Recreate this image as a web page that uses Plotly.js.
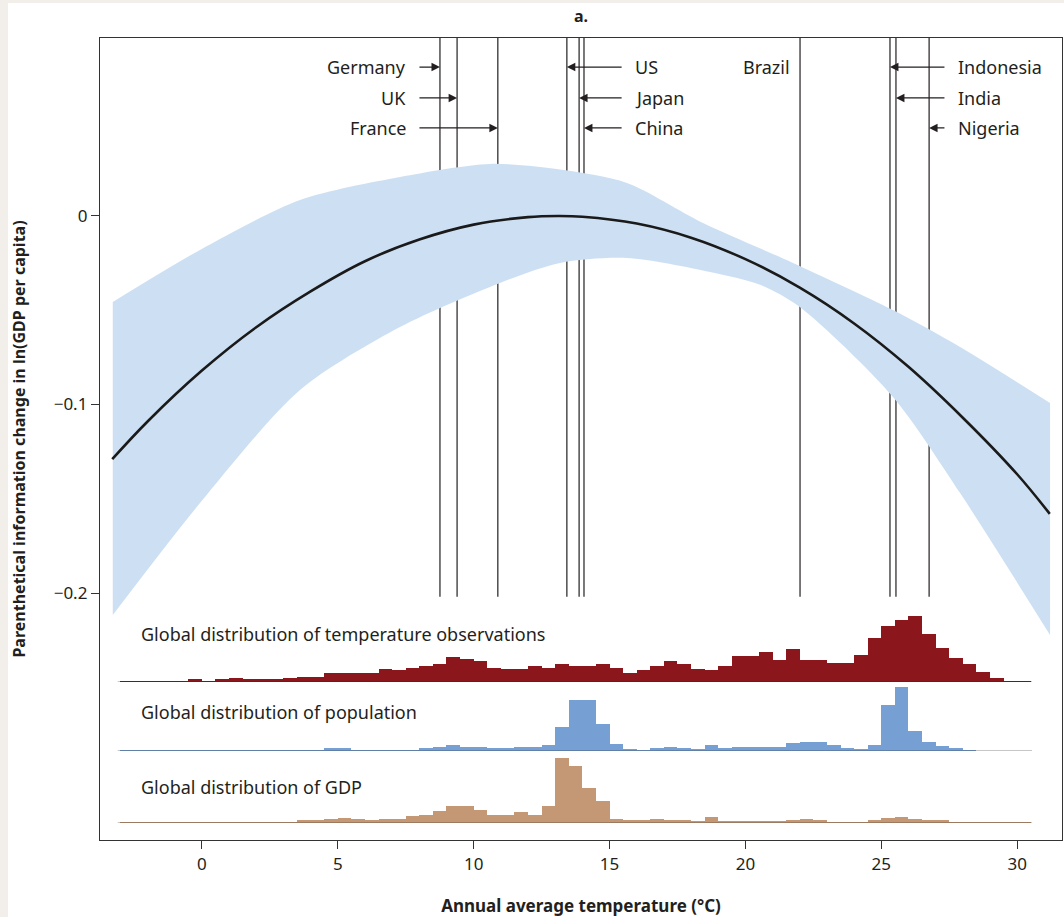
<!DOCTYPE html>
<html>
<head>
<meta charset="utf-8">
<script src="https://cdn.plot.ly/plotly-3.0.1.min.js"></script>
<style>html,body{margin:0;padding:0;background:#fff;}#chart{width:1064px;height:917px;}</style>
</head>
<body>
<div id="chart"></div>
<script>
// ---- Response curve ----
const curveTemp = [-3.3, -2, 0, 2, 4, 6, 8, 10, 12, 13.1, 14, 16, 18, 20, 22, 24, 26, 28, 30, 31.2];
const curveVal  = [-0.129, -0.109, -0.082, -0.059, -0.040, -0.024, -0.0125, -0.0046, -0.0006, 0, -0.0004, -0.004, -0.0115, -0.0229, -0.038, -0.057, -0.080, -0.107, -0.137, -0.158];

// ---- Confidence band ----
const upperTemp = [-3.28, -0.07, 3.61, 7.29, 10.6, 13.18, 15.64, 18.44, 21.75, 25.43, 27.9, 31.21];
const upperVal  = [-0.0456, -0.018, 0.0085, 0.0207, 0.0276, 0.0246, 0.0175, -0.0037, -0.0249, -0.0499, -0.0695, -0.0992];
const lowerTemp = [-3.28, -0.07, 3.61, 7.29, 10.97, 13.18, 15.64, 18.7, 20.54, 22.0, 25.43, 27.9, 31.21];
const lowerVal  = [-0.2117, -0.1523, -0.0923, -0.0589, -0.0355, -0.0249, -0.0223, -0.0297, -0.0365, -0.0483, -0.096, -0.147, -0.2223];

// ---- Countries ----
const countries     = ['Germany', 'UK', 'France', 'US', 'Japan', 'China', 'Brazil', 'Indonesia', 'India', 'Nigeria'];
const countryTemps  = [8.76, 9.39, 10.89, 13.43, 13.88, 14.06, 22.01, 25.32, 25.54, 26.76];

// ---- Histograms (0.5 °C bins from -3 to 30.5; relative heights) ----
const binStart = -3, binWidth = 0.5;
const tempHist = [1,1,1,1,1, 3, 1, 3, 4, 3,3,3, 4, 5,5, 9,9,9,9, 13, 12, 14, 16, 18, 25, 23, 21, 14, 13,13, 16, 14, 18, 16,16, 18, 14, 9, 12, 16, 21, 18, 13, 12, 16, 26,26, 30, 22, 33, 22,22, 19,19, 27, 44, 56, 62, 66, 48, 34, 24, 18, 10, 4, 1,1];
const popHist  = [0.6,0.6,0.6,0.6,0.6,0.6,0.6,0.6,0.6,0.6,0.6,0.6,0.6,0.6,0.6, 3,3, 1,1,1,1,1, 3, 4, 6, 4,4, 3,3, 4,4, 6, 24, 51,51, 27, 7, 2, 1, 3, 4, 3, 2, 6, 3, 4,4,4,4, 8, 9,9, 6, 3, 2, 6, 46, 64, 20, 9, 5, 3, 1, 0,0,0,0];
const gdpHist  = [1,1,1,1,1,1,1,1,1,1,1,1,1, 3,3, 4, 5, 4, 3, 4,4, 7, 8, 12, 17,17, 13, 8,8, 11, 8, 17, 65, 57, 35, 22, 4, 3,3, 4, 3,3, 2, 6, 2,2,2,2,2, 3, 4, 3, 1,1,1, 3, 5, 6, 4, 3,3, 1,1,1,1,1,1];
const histLabels = ['Global distribution of temperature observations', 'Global distribution of population', 'Global distribution of GDP'];

const binCenters = tempHist.map((_, i) => binStart + binWidth * (i + 0.5));
const binEnd = binStart + binWidth * tempHist.length;

const ink = '#231f20';
const font = 'Noto Sans, Open Sans, sans-serif';

const traces = [
  {x: lowerTemp, y: lowerVal, type: 'scatter', mode: 'lines',
   line: {width: 0, shape: 'spline', smoothing: 0.8, color: '#cde0f3'}, hoverinfo: 'skip', xaxis: 'x', yaxis: 'y'},
  {x: upperTemp, y: upperVal, type: 'scatter', mode: 'lines', fill: 'tonexty', fillcolor: '#cde0f3',
   line: {width: 0, shape: 'spline', smoothing: 0.8, color: '#cde0f3'}, hoverinfo: 'skip', xaxis: 'x', yaxis: 'y'},
  {x: curveTemp, y: curveVal, type: 'scatter', mode: 'lines',
   line: {color: '#1a1a1a', width: 2.6, shape: 'spline'}, xaxis: 'x', yaxis: 'y'},
  {x: binCenters, y: tempHist, type: 'bar', width: binWidth, marker: {color: '#8b171c', line: {width: 0}}, xaxis: 'x', yaxis: 'y2'},
  {x: binCenters, y: popHist, type: 'bar', width: binWidth, marker: {color: '#76a0d4', line: {width: 0}}, xaxis: 'x', yaxis: 'y3'},
  {x: binCenters, y: gdpHist, type: 'bar', width: binWidth, marker: {color: '#c49874', line: {width: 0}}, xaxis: 'x', yaxis: 'y4'}
];

const yTop = 0.0944, lineBottom = -0.202;
const shapes = [];
countryTemps.forEach(t => shapes.push({type: 'line', xref: 'x', yref: 'y', x0: t, x1: t, y0: lineBottom, y1: yTop,
  line: {color: ink, width: 1.2}, layer: 'below'}));
['y2', 'y3', 'y4'].forEach(ax => shapes.push({type: 'line', xref: 'x', yref: ax, x0: binStart - 0.1, x1: binEnd + 0.05, y0: -0.6, y1: -0.6,
  line: {color: '#222', width: 1.6}, layer: 'above'}));
// beige page edge
shapes.push({type: 'rect', xref: 'paper', yref: 'paper', x0: -0.104, x1: -0.0956, y0: -0.1, y1: 1.05, fillcolor: '#f2efea', line: {width: 0}});
shapes.push({type: 'rect', xref: 'paper', yref: 'paper', x0: -0.104, x1: 1.003, y0: 1.0436, y1: 1.05, fillcolor: '#f2efea', line: {width: 0}});

// label layout: rows and anchor positions
const rowY = [0.079, 0.0626, 0.0467];
const leftTextX = 7.58, leftTailX = 7.95, midTailX = 15.5, midTextX = 15.86, rightTailX = 27.38, rightTextX = 27.75;
const labelSpec = [
  {side: 'L', row: 0}, {side: 'L', row: 1}, {side: 'L', row: 2},
  {side: 'M', row: 0}, {side: 'M', row: 1}, {side: 'M', row: 2},
  {side: 'B', row: 0},
  {side: 'R', row: 0}, {side: 'R', row: 1}, {side: 'R', row: 2}
];
const annotations = [];
const tf = {family: font, size: 18, color: ink};
countries.forEach((name, i) => {
  const s = labelSpec[i], y = rowY[s.row], t = countryTemps[i];
  if (s.side === 'B') {
    annotations.push({x: t - 0.3, y: y, xref: 'x', yref: 'y', text: name, showarrow: false, xanchor: 'right', yanchor: 'middle', font: tf});
    return;
  }
  const tail = s.side === 'L' ? leftTailX : (s.side === 'M' ? midTailX : rightTailX);
  const tx = s.side === 'L' ? leftTextX : (s.side === 'M' ? midTextX : rightTextX);
  annotations.push({x: tx, y: y, xref: 'x', yref: 'y', text: name, showarrow: false,
    xanchor: s.side === 'L' ? 'right' : 'left', yanchor: 'middle', font: tf});
  annotations.push({x: t, y: y, ax: tail, ay: y, xref: 'x', yref: 'y', axref: 'x', ayref: 'y', text: '',
    showarrow: true, arrowhead: 2, arrowsize: 1.3, arrowwidth: 1.3, arrowcolor: ink, standoff: 0, startstandoff: 0});
});
const histLabelY = [48, 39, 36];
['y2', 'y3', 'y4'].forEach((ax, i) => annotations.push({x: -2.3, y: histLabelY[i], xref: 'x', yref: ax, text: histLabels[i],
  showarrow: false, xanchor: 'left', yanchor: 'middle', font: tf}));

const hiddenAxis = (domain, maxV) => ({domain: domain, range: [0, maxV], visible: false, showgrid: false, zeroline: false, anchor: 'x', fixedrange: true});

const layout = {
  width: 1064, height: 917,
  margin: {l: 100, r: 2, t: 38, b: 77},
  paper_bgcolor: '#ffffff', plot_bgcolor: 'rgba(0,0,0,0)',
  showlegend: false, bargap: 0,
  font: {family: font, color: ink},
  title: {text: '<b>a.</b>', x: 0.5, xref: 'paper', y: 0.9826, yref: 'container', yanchor: 'middle', font: {family: font, size: 16, color: ink}},
  xaxis: {range: [-3.75, 31.65], tickvals: [0, 5, 10, 15, 20, 25, 30], ticks: 'outside', ticklen: 8, tickcolor: '#333', tickwidth: 1,
    showline: true, linecolor: '#333', linewidth: 1.2, mirror: true, showgrid: false, zeroline: false,
    tickfont: {family: font, size: 17, color: ink},
    title: {text: '<b>Annual average temperature (°C)</b>', font: {family: font, size: 17, color: ink}, standoff: 26}},
  yaxis: {domain: [0, 1], range: [-0.331, yTop], tickvals: [-0.2, -0.1, 0], ticktext: ['−0.2', '−0.1', '0'], ticks: 'outside', ticklen: 8,
    tickcolor: '#333', tickwidth: 1, showline: true, linecolor: '#333', linewidth: 1.2, mirror: true, showgrid: false, zeroline: false,
    tickfont: {family: font, size: 17, color: ink},
    title: {text: '<b>Parenthetical information change in ln(GDP per capita)</b>', font: {family: font, size: 16, color: ink}, standoff: 24}},
  yaxis2: hiddenAxis([0.1970, 0.2793], 66),
  yaxis3: hiddenAxis([0.1110, 0.1908], 64),
  yaxis4: hiddenAxis([0.0212, 0.1022], 65),
  shapes: shapes,
  annotations: annotations
};

Plotly.newPlot('chart', traces, layout, {displayModeBar: false, staticPlot: true});
</script>
</body>
</html>
